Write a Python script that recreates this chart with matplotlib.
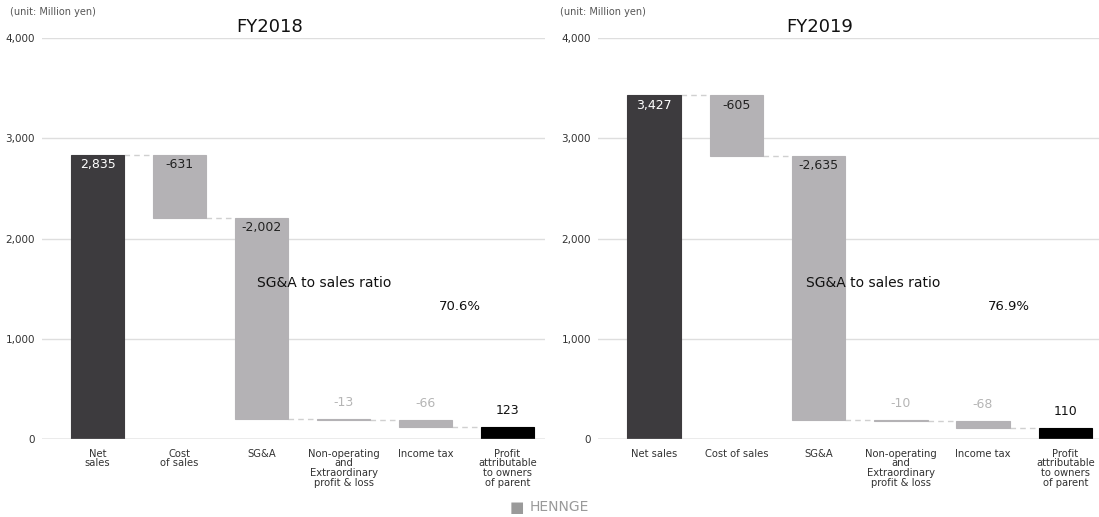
import matplotlib
matplotlib.use("Agg")
import matplotlib.pyplot as plt

plt.rcParams['font.family'] = ['DejaVu Sans']

# ---- data ----
categories_2018 = ["Net\nsales", "Cost\nof sales", "SG&A",
                   "Non-operating\nand\nExtraordinary\nprofit & loss",
                   "Income tax", "Profit\nattributable\nto owners\nof parent"]
categories_2019 = ["Net sales", "Cost of sales", "SG&A",
                   "Non-operating\nand\nExtraordinary\nprofit & loss",
                   "Income tax", "Profit\nattributable\nto owners\nof parent"]
values_2018 = [2835, -631, -2002, -13, -66, 123]
values_2019 = [3427, -605, -2635, -10, -68, 110]
labels_2018 = ["2,835", "-631", "-2,002", "-13", "-66", "123"]
labels_2019 = ["3,427", "-605", "-2,635", "-10", "-68", "110"]
ratio_2018 = "70.6%"
ratio_2019 = "76.9%"
yticks = [0, 1000, 2000, 3000, 4000]
ytick_labels = ["0", "1,000", "2,000", "3,000", "4,000"]

C_TOTAL = "#3d3b3e"
C_DEC = "#b4b2b5"
C_PROFIT = "#000000"

W, H = 1099, 517
fig = plt.figure(figsize=(W / 100, H / 100), dpi=100)


def panel(rect, xlim, cats, vals, labs, title, ratio, ratio_xy, title_x):
    ax = fig.add_axes(rect)
    ax.set_xlim(*xlim)
    ax.set_ylim(0, 4000)
    for s in ax.spines.values():
        s.set_visible(False)
    ax.set_yticks(yticks)
    ax.set_yticklabels(ytick_labels, fontsize=7.5, color="#333333")
    ax.tick_params(axis='y', length=0, pad=5)
    ax.tick_params(axis='x', length=0, pad=7)
    for yv in yticks[1:]:
        ax.axhline(yv, color="#dedede", lw=1, zorder=0)
    ax.axhline(0, color="#9a9a9a", lw=1, zorder=3)

    n = len(vals)
    xs = list(range(n))
    bw = 0.65
    running = 0
    bottoms, heights, colors = [], [], []
    for i, v in enumerate(vals):
        if i == 0:
            bottoms.append(0); heights.append(v); colors.append(C_TOTAL)
            running = v
        elif i == n - 1:
            bottoms.append(0); heights.append(v); colors.append(C_PROFIT)
        else:
            bottoms.append(running + v); heights.append(-v); colors.append(C_DEC)
            running = running + v
    ax.bar(xs, heights, bottom=bottoms, width=bw, color=colors,
           edgecolor=colors, linewidth=0.8, zorder=2)

    # connectors
    for i in range(n - 1):
        level = heights[0] if i == 0 else bottoms[i]
        ax.plot([xs[i] + bw / 2, xs[i + 1] - bw / 2], [level, level],
                color="#d0d0d0", lw=1, ls=(0, (4, 3)), zorder=1)

    # value labels
    for i in range(n):
        top = bottoms[i] + heights[i]
        if i == 0:
            ax.annotate(labs[i], (xs[i], top), xytext=(0, -7), textcoords="offset points",
                        ha="center", va="center", fontsize=9, color="white")
        elif i in (1, 2):
            ax.annotate(labs[i], (xs[i], top), xytext=(0, -7), textcoords="offset points",
                        ha="center", va="center", fontsize=9, color="#222222")
        elif i == n - 1:
            ax.annotate(labs[i], (xs[i], top), xytext=(0, 12), textcoords="offset points",
                        ha="center", va="center", fontsize=9, color="#111111")
        else:
            ax.annotate(labs[i], (xs[i], top), xytext=(0, 12), textcoords="offset points",
                        ha="center", va="center", fontsize=9, color="#b5b5b5")

    ax.set_xticks(xs)
    ax.set_xticklabels(cats, fontsize=7.2, color="#333333", linespacing=0.95, va="top")

    fig.text(title_x / W, 1 - 27 / H, title, fontsize=13, ha="center", va="center", color="#111111")
    fig.text(ratio_xy[0] / W, 1 - 283 / H, "SG&A to sales ratio", fontsize=10,
             ha="left", va="center", color="#111111")
    fig.text(ratio_xy[1] / W, 1 - 307 / H, ratio, fontsize=9.5,
             ha="left", va="center", color="#111111")
    return ax


panel([42 / W, (517 - 439) / H, 503 / W, 401 / H], (-0.677, 5.457),
      categories_2018, values_2018, labels_2018, "FY2018", ratio_2018, (257, 439), 270)
panel([598 / W, (517 - 439) / H, 501 / W, 401 / H], (-0.683, 5.41),
      categories_2019, values_2019, labels_2019, "FY2019", ratio_2019, (806, 988), 820)

fig.text(10 / W, 1 - 12 / H, "(unit: Million yen)", fontsize=7, color="#555555", ha="left", va="center")
fig.text(560 / W, 1 - 12 / H, "(unit: Million yen)", fontsize=7, color="#555555", ha="left", va="center")

fig.text(517 / W, 1 - 507 / H, "\u25a0", fontsize=11, color="#9a9a9a", ha="center", va="center")
fig.text(530 / W, 1 - 507 / H, "HENNGE", fontsize=10, color="#9a9a9a", ha="left", va="center")

fig.savefig("out.png", dpi=100)
